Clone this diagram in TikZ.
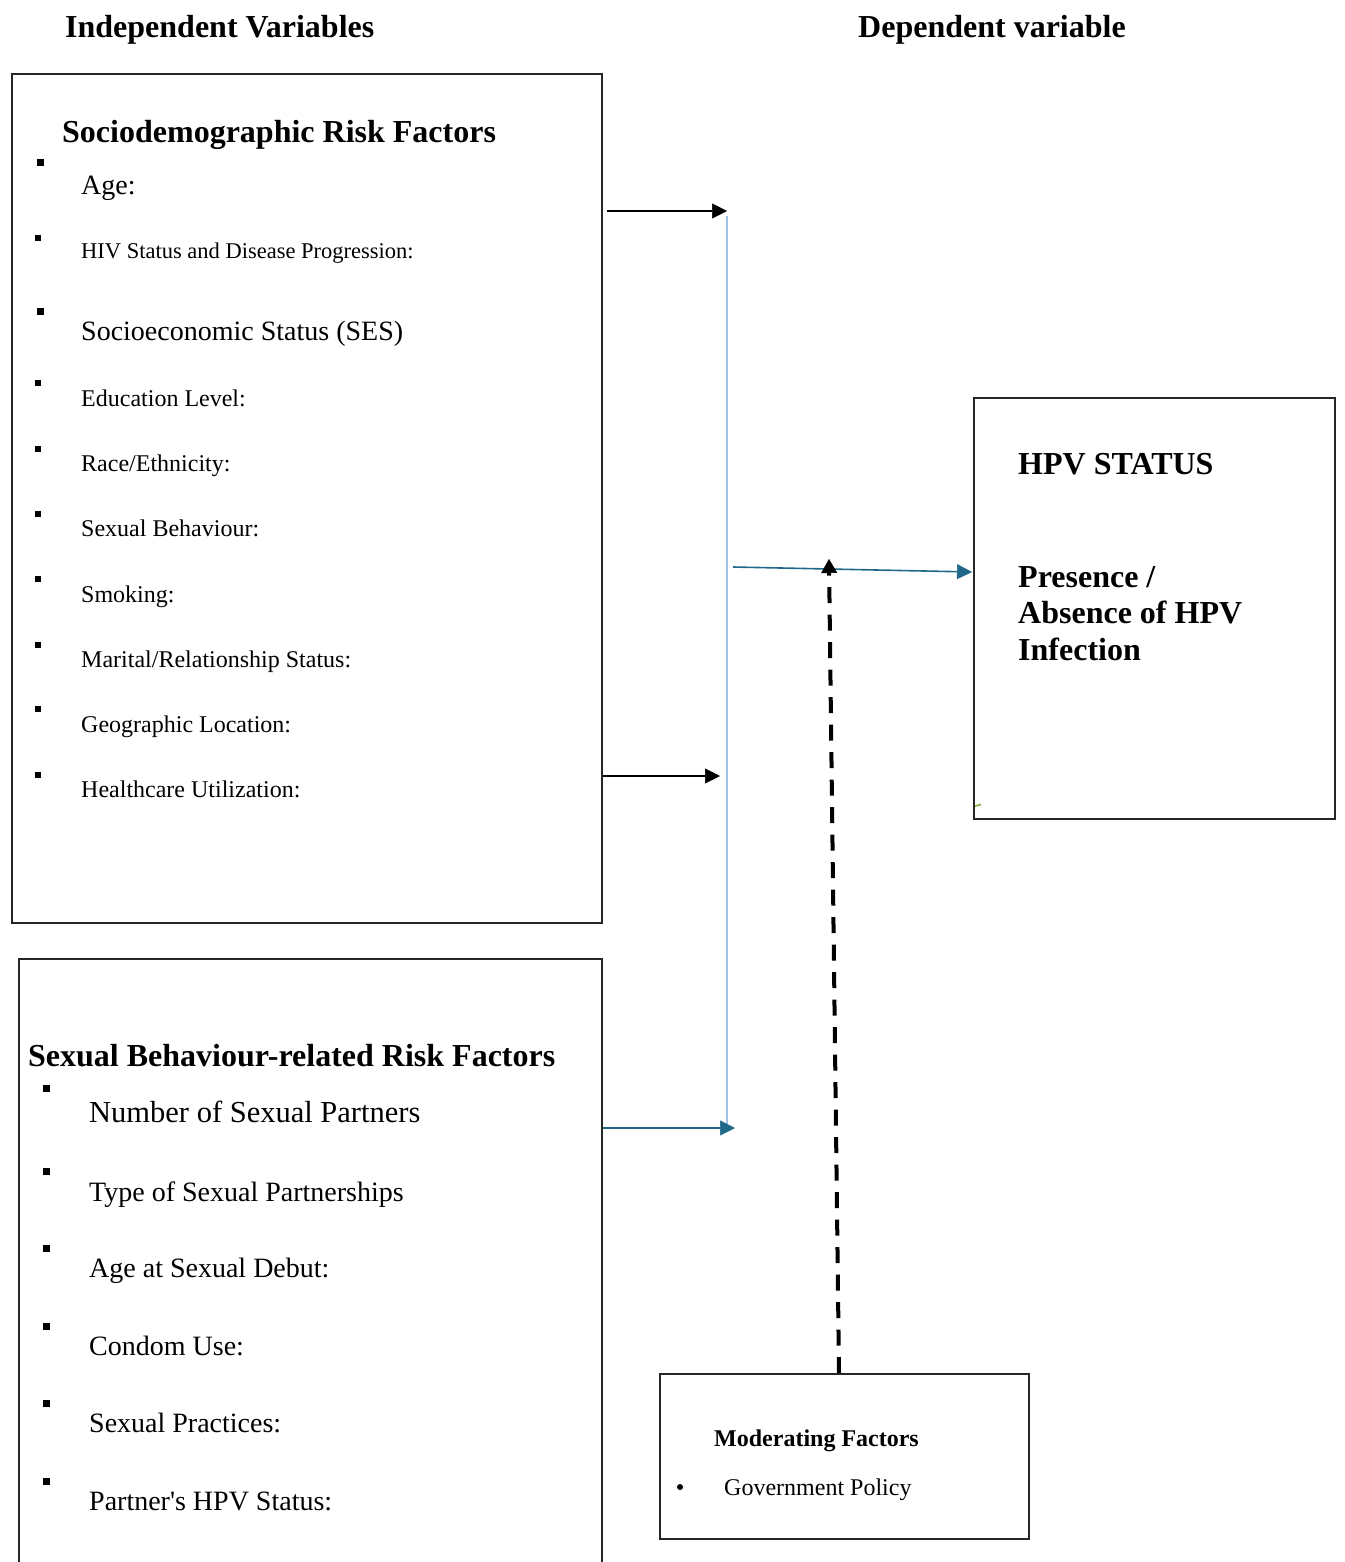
\documentclass[tikz,border=0pt]{standalone}
\usepackage{fontspec}
\setmainfont{Liberation Serif}
\usetikzlibrary{arrows.meta,calc}
\definecolor{tealA}{RGB}{31,104,138}
\definecolor{lightA}{RGB}{157,195,230}
\definecolor{greenA}{RGB}{141,178,85}
\begin{document}
\begin{tikzpicture}[x=1pt,y=-1pt,
  box/.style={draw=black!85, line width=2pt, inner sep=0pt, anchor=north west},
  head/.style={font=\fontsize{32}{38}\selectfont\bfseries, anchor=base west, inner sep=0pt},
  itA/.style={font=\fontsize{24}{29}\selectfont, anchor=base west, inner sep=0pt},
  itB/.style={font=\fontsize{28}{33}\selectfont, anchor=base west, inner sep=0pt},
  itC/.style={font=\fontsize{22.5}{27}\selectfont, anchor=base west, inner sep=0pt},
  modh/.style={font=\fontsize{24}{29}\selectfont\bfseries, anchor=base west, inner sep=0pt},
  sqS/.style={fill=black, inner sep=0pt, minimum size=5.5pt},
  sqL/.style={fill=black, inner sep=0pt, minimum size=7pt},
  dotB/.style={circle, fill=black, inner sep=0pt, minimum size=6pt},
  blk/.style={draw=black, line width=1.3pt, -{Triangle[length=15pt,width=15pt,line width=0.5pt]}},
  tealarrow/.style={draw=tealA, line width=1.6pt, -{Triangle[length=15pt,width=15pt,line width=0.5pt]}},
  lightline/.style={draw=lightA, line width=1.5pt},
  modline/.style={draw=black, line width=4pt, dash pattern=on 16pt off 11.5pt, -{Triangle[length=14pt,width=16pt,line width=0.5pt]}}
]
\useasboundingbox (0,0) rectangle (1344,1562);
\clip (0,0) rectangle (1344,1562);

% titles
\node[head] (tIV) at (65,37.6) {Independent Variables};
\node[head] (tDV) at (858,37.6) {Dependent variable};

% sociodemographic box
\node[box, minimum width=590pt, minimum height=849pt] (sd) at (11,73) {};
\node[head] (sdh) at (62,142.6) {Sociodemographic Risk Factors};
\node[sqL] (sb1) at (40,163) {};
\node[itB] (si1) at (81,195) {Age:};
\node[sqS] (sb2) at (38,238) {};
\node[itC] (si2) at (81,258.5) {HIV Status and Disease Progression:};
\node[sqL] (sb3) at (40,311) {};
\node[itB] (si3) at (81,340) {Socioeconomic Status (SES)};
\node[sqS] (sb4) at (38,383) {};
\node[itA] (si4) at (81,406) {Education Level:};
\node[sqS] (sb5) at (38,449) {};
\node[itA] (si5) at (81,471) {Race/Ethnicity:};
\node[sqS] (sb6) at (38,514) {};
\node[itA] (si6) at (81,536) {Sexual Behaviour:};
\node[sqS] (sb7) at (38,579) {};
\node[itA] (si7) at (81,602) {Smoking:};
\node[sqS] (sb8) at (38,645) {};
\node[itA] (si8) at (81,667) {Marital/Relationship Status:};
\node[sqS] (sb9) at (38,709) {};
\node[itA] (si9) at (81,732) {Geographic Location:};
\node[sqS] (sb10) at (38,775) {};
\node[itA] (si10) at (81,797) {Healthcare Utilization:};

% sexual behaviour box
\node[box, minimum width=583pt, minimum height=700pt] (sx) at (18,958) {};
\node[head] (sxh) at (28,1066.6) {Sexual Behaviour-related Risk Factors};
\node[sqL] (xb1) at (46,1088) {};
\node[itB, font=\fontsize{30.5}{36}\selectfont] (xi1) at (89,1122) {Number of Sexual Partners};
\node[sqL] (xb2) at (46,1171) {};
\node[itB] (xi2) at (89,1201) {Type of Sexual Partnerships};
\node[sqL] (xb3) at (46,1248) {};
\node[itB] (xi3) at (89,1277) {Age at Sexual Debut:};
\node[sqL] (xb4) at (46,1326) {};
\node[itB] (xi4) at (89,1355) {Condom Use:};
\node[sqL] (xb5) at (46,1403) {};
\node[itB] (xi5) at (89,1432) {Sexual Practices:};
\node[sqL] (xb6) at (46,1481) {};
\node[itB] (xi6) at (89,1510) {Partner\textquotesingle s HPV Status:};

% HPV box
\node[box, minimum width=361pt, minimum height=421pt] (hpv) at (973,397) {};
\node[head] (hpvh) at (1018,474.6) {HPV STATUS};
\node[head, align=left, anchor=north west, font=\fontsize{32}{36.5}\selectfont\bfseries] (hpvt) at (1018,566) {Presence /\\Absence of HPV\\Infection};
\draw[greenA, line width=1.8pt] (hpv.south west) ++(2,-14) -- ++(6,-1.5);

% moderating box
\node[box, minimum width=369pt, minimum height=165pt] (mod) at (659,1373) {};
\node[modh] (modh) at (714,1446) {Moderating Factors};
\node[dotB] (modb) at (680,1487) {};
\node[itA] (modi) at (724,1495) {Government Policy};

% connectors
\coordinate (a1e) at (727,211);
\draw[blk] ($(sd.east |- a1e)+(4,0)$) -- (a1e);
\coordinate (vt) at (727,216);
\coordinate (vb) at (727,1126);
\draw[lightline] (vt) -- (vb);
\coordinate (a2e) at (720,776);
\draw[blk] (sd.east |- a2e) -- (a2e);
\coordinate (a3e) at (735,1128);
\draw[tealarrow] (sx.east |- a3e) -- (a3e);
\coordinate (a4s) at (733,567);
\draw[tealarrow] (a4s) -- ($(hpv.north west)+(-1,175)$);
\coordinate (dtip) at (829,559);
\draw[modline] ($(mod.north west)+(180,0)$) -- (dtip);
\end{tikzpicture}
\end{document}
